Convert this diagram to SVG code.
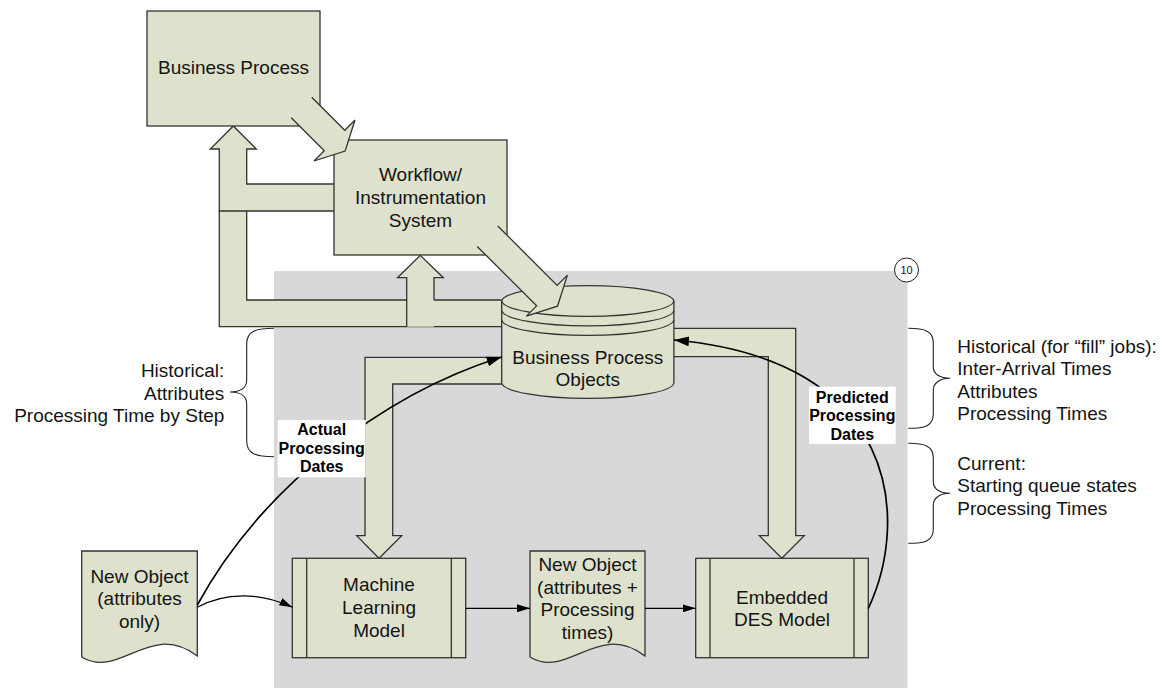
<svg xmlns="http://www.w3.org/2000/svg" width="1165" height="688" viewBox="0 0 1165 688">
  <style>
    .t { font-family: "Liberation Sans", Arial, sans-serif; font-size: 19px; fill: #141414; }
    .tb { font-family: "Liberation Sans", Arial, sans-serif; font-size: 16px; font-weight: bold; fill: #000; text-anchor: middle; }
    .c { text-anchor: middle; }
    .r { text-anchor: end; }
    .shape { fill: #dee1cc; stroke: #333; stroke-width: 1.3; }
    .fill { fill: #dee1cc; stroke: none; }
    .edge { fill: none; stroke: #333; stroke-width: 1.3; stroke-linejoin: miter; }
    .brace { fill: none; stroke: #222; stroke-width: 1.1; }
    .flow { fill: none; stroke: #000; stroke-width: 1.2; }
    .curve { fill: none; stroke: #000; stroke-width: 1.7; }
  </style>
  <defs>
    <marker id="ahBig" viewBox="0 0 15 10" refX="15" refY="5" markerWidth="15" markerHeight="10" orient="auto" markerUnits="userSpaceOnUse">
      <path d="M0,0 L15,5 L0,10 Z" fill="#000"/>
    </marker>
    <marker id="ahSmall" viewBox="0 0 13 8" refX="13" refY="4" markerWidth="13" markerHeight="8" orient="auto" markerUnits="userSpaceOnUse">
      <path d="M0,0 L13,4 L0,8 Z" fill="#000"/>
    </marker>
  </defs>

  <rect width="1165" height="688" fill="#fff"/>

  <!-- shaded system boundary -->
  <rect id="system-area" x="274" y="271" width="633.5" height="420" fill="#d8d8d8"/>

  <!-- fat data-flow arrows -->
  <g id="block-arrows">
    <!-- objects store back to business process (left, then up) -->
    <polygon class="fill" points="501.7,300 246.7,300 246.7,211 219.3,211 219.3,326.7 501.7,326.7"/>
    <polyline class="edge" points="501.7,300 246.7,300 246.7,211"/>
    <polyline class="edge" points="219.3,211 219.3,326.7 501.7,326.7"/>
    <!-- workflow system to business process -->
    <polygon class="fill" points="334,184 246.7,184 246.7,149 256.3,149 233.3,126 210.3,149 219.3,149 219.3,211 334,211"/>
    <polyline class="edge" points="334,184 246.7,184 246.7,149 256.3,149 233.3,126 210.3,149 219.3,149 219.3,211 334,211"/>
    <!-- objects store up to workflow system -->
    <polygon class="fill" points="406.7,326.7 406.7,277.7 397.5,277.7 420.3,255.3 443.3,277.7 434,277.7 434,326.7"/>
    <polyline class="edge" points="406.7,326.7 406.7,277.7 397.5,277.7 420.3,255.3 443.3,277.7 434,277.7 434,300"/>
    <!-- objects store down to machine learning model -->
    <polygon class="fill" points="501.7,357.3 365,357.3 365,535.7 356.7,535.7 379,558.3 401.7,535.7 392.7,535.7 392.7,384 501.7,384"/>
    <polyline class="edge" points="501.7,357.3 365,357.3 365,535.7 356.7,535.7 379,558.3 401.7,535.7 392.7,535.7 392.7,384 501.7,384"/>
    <!-- objects store down to DES model -->
    <polygon class="fill" points="674,328.3 795.7,328.3 795.7,535.7 804.3,535.7 781.8,558.3 759.3,535.7 768.3,535.7 768.3,356.7 674,356.7"/>
    <polyline class="edge" points="674,328.3 795.7,328.3 795.7,535.7 804.3,535.7 781.8,558.3 759.3,535.7 768.3,535.7 768.3,356.7 674,356.7"/>
  </g>

  <!-- nodes -->
  <g id="business-process">
    <rect class="shape" x="147" y="11" width="173" height="115"/>
    <text class="t c" x="233.5" y="74">Business Process</text>
  </g>

  <g id="workflow-system">
    <rect class="shape" x="334" y="140" width="173" height="115"/>
    <text class="t c" x="420.5" y="181">Workflow/</text>
    <text class="t c" x="420.5" y="204">Instrumentation</text>
    <text class="t c" x="420.5" y="226.5">System</text>
  </g>

  <g id="business-process-objects">
    <path class="shape" d="M501.7,301 V383 A86.15,16 0 0 0 673.9,383 V301 A86.15,16 0 0 0 501.7,301 Z"/>
    <path class="edge" d="M501.7,301 A86.15,16 0 0 0 673.9,301"/>
    <path class="edge" d="M501.7,310.5 A86.15,16 0 0 0 673.9,310.5"/>
    <path class="edge" d="M501.7,320 A86.15,16 0 0 0 673.9,320"/>
    <text class="t c" x="587.8" y="364">Business Process</text>
    <text class="t c" x="587.8" y="386">Objects</text>
  </g>

  <g id="new-object-input">
    <path class="shape" d="M81.7,551 H197.3 V656 C150,620 120,680 81.7,657 Z"/>
    <text class="t c" x="139.5" y="582.5">New Object</text>
    <text class="t c" x="139.5" y="605">(attributes</text>
    <text class="t c" x="139.5" y="627.5">only)</text>
  </g>

  <g id="machine-learning-model">
    <rect class="shape" x="292.3" y="558.3" width="173.4" height="99.4"/>
    <line class="edge" x1="306.7" y1="558.3" x2="306.7" y2="657.7"/>
    <line class="edge" x1="451.3" y1="558.3" x2="451.3" y2="657.7"/>
    <text class="t c" x="379" y="591">Machine</text>
    <text class="t c" x="379" y="614">Learning</text>
    <text class="t c" x="379" y="637">Model</text>
  </g>

  <g id="new-object-timed">
    <path class="shape" d="M530,551 H645 V656 C598,620 568,680 530,657 Z"/>
    <text class="t c" x="587.5" y="571">New Object</text>
    <text class="t c" x="587.5" y="593.5">(attributes +</text>
    <text class="t c" x="587.5" y="616">Processing</text>
    <text class="t c" x="587.5" y="638.5">times)</text>
  </g>

  <g id="embedded-des-model">
    <rect class="shape" x="695.7" y="558.3" width="172.6" height="99.4"/>
    <line class="edge" x1="710" y1="558.3" x2="710" y2="657.7"/>
    <line class="edge" x1="854" y1="558.3" x2="854" y2="657.7"/>
    <text class="t c" x="782" y="603.5">Embedded</text>
    <text class="t c" x="782" y="626">DES Model</text>
  </g>

  <!-- diagonal fat arrows drawn over the boxes they enter -->
  <g id="diagonal-arrows">
    <polygon class="fill" points="311.75,97.25 344.75,130.25 355,120 345.1,151.1 314,161 324.25,150.75 291.25,117.75"/>
    <polyline class="edge" points="311.75,97.25 344.75,130.25 355,120 345.1,151.1 314,161 324.25,150.75 291.25,117.75"/>
    <polygon class="fill" points="497.75,225.95 557.15,285.35 567.4,275.1 557.5,306.2 526.4,316.1 536.65,305.85 477.25,246.45"/>
    <polyline class="edge" points="497.75,225.95 557.15,285.35 567.4,275.1 557.5,306.2 526.4,316.1 536.65,305.85 477.25,246.45"/>
  </g>

  <!-- connectors -->
  <g id="connectors">
    <path class="curve" d="M197.3,605 C260,490 380,395 501.7,357" marker-end="url(#ahBig)"/>
    <path class="curve" d="M868.3,608.3 C910,520 900,360 674,340" marker-end="url(#ahBig)"/>
    <path class="flow" d="M197.3,607.3 C225,592 260,592 292.3,607.3" marker-end="url(#ahSmall)"/>
    <line class="flow" x1="465.7" y1="608.3" x2="530" y2="608.3" marker-end="url(#ahSmall)"/>
    <line class="flow" x1="645" y1="608.3" x2="695.7" y2="608.3" marker-end="url(#ahSmall)"/>
  </g>

  <!-- connector labels -->
  <g id="label-actual">
    <rect x="277.7" y="420" width="88" height="57.3" fill="#fff"/>
    <text class="tb" x="321.7" y="435">Actual</text>
    <text class="tb" x="321.7" y="453.7">Processing</text>
    <text class="tb" x="321.7" y="472.3">Dates</text>
  </g>
  <g id="label-predicted">
    <rect x="809" y="386.7" width="86.7" height="57.3" fill="#fff"/>
    <text class="tb" x="852.3" y="402.5">Predicted</text>
    <text class="tb" x="852.3" y="421">Processing</text>
    <text class="tb" x="852.3" y="439.5">Dates</text>
  </g>

  <!-- data annotations -->
  <g id="note-historical-ml">
    <path class="brace" d="M274,328.3 C256,328.3 246.7,331 246.7,344 L246.7,380 C246.7,388 240,392 230,392 C240,392 246.7,396 246.7,404 L246.7,441 C246.7,454 256,456.7 274,456.7"/>
    <text class="t r" x="224.3" y="377">Historical:</text>
    <text class="t r" x="224.3" y="399.5">Attributes</text>
    <text class="t r" x="224.3" y="422">Processing Time by Step</text>
  </g>
  <g id="note-historical-des">
    <path class="brace" d="M908.3,328.3 C925,328.3 933.3,331 933.3,343 L933.3,367 C933.3,374 940,378.3 950,378.3 C940,378.3 933.3,383 933.3,390 L933.3,414 C933.3,426 925,428.3 908.3,428.3"/>
    <text class="t" x="957.3" y="352.5">Historical (for “fill” jobs):</text>
    <text class="t" x="957.3" y="375">Inter-Arrival Times</text>
    <text class="t" x="957.3" y="397.5">Attributes</text>
    <text class="t" x="957.3" y="420">Processing Times</text>
  </g>
  <g id="note-current-des">
    <path class="brace" d="M908.3,443.3 C925,443.3 933.3,446 933.3,458 L933.3,482 C933.3,489 940,493.3 950,493.3 C940,493.3 933.3,498 933.3,505 L933.3,529 C933.3,541 925,543.3 908.3,543.3"/>
    <text class="t" x="957.3" y="469.5">Current:</text>
    <text class="t" x="957.3" y="492">Starting queue states</text>
    <text class="t" x="957.3" y="514.5">Processing Times</text>
  </g>

  <g id="step-marker">
    <circle cx="906.5" cy="270" r="12" fill="#fff" stroke="#222" stroke-width="1"/>
    <text x="906.5" y="274" font-family="Liberation Sans, Arial, sans-serif" font-size="11" text-anchor="middle" fill="#111">10</text>
  </g>
</svg>
